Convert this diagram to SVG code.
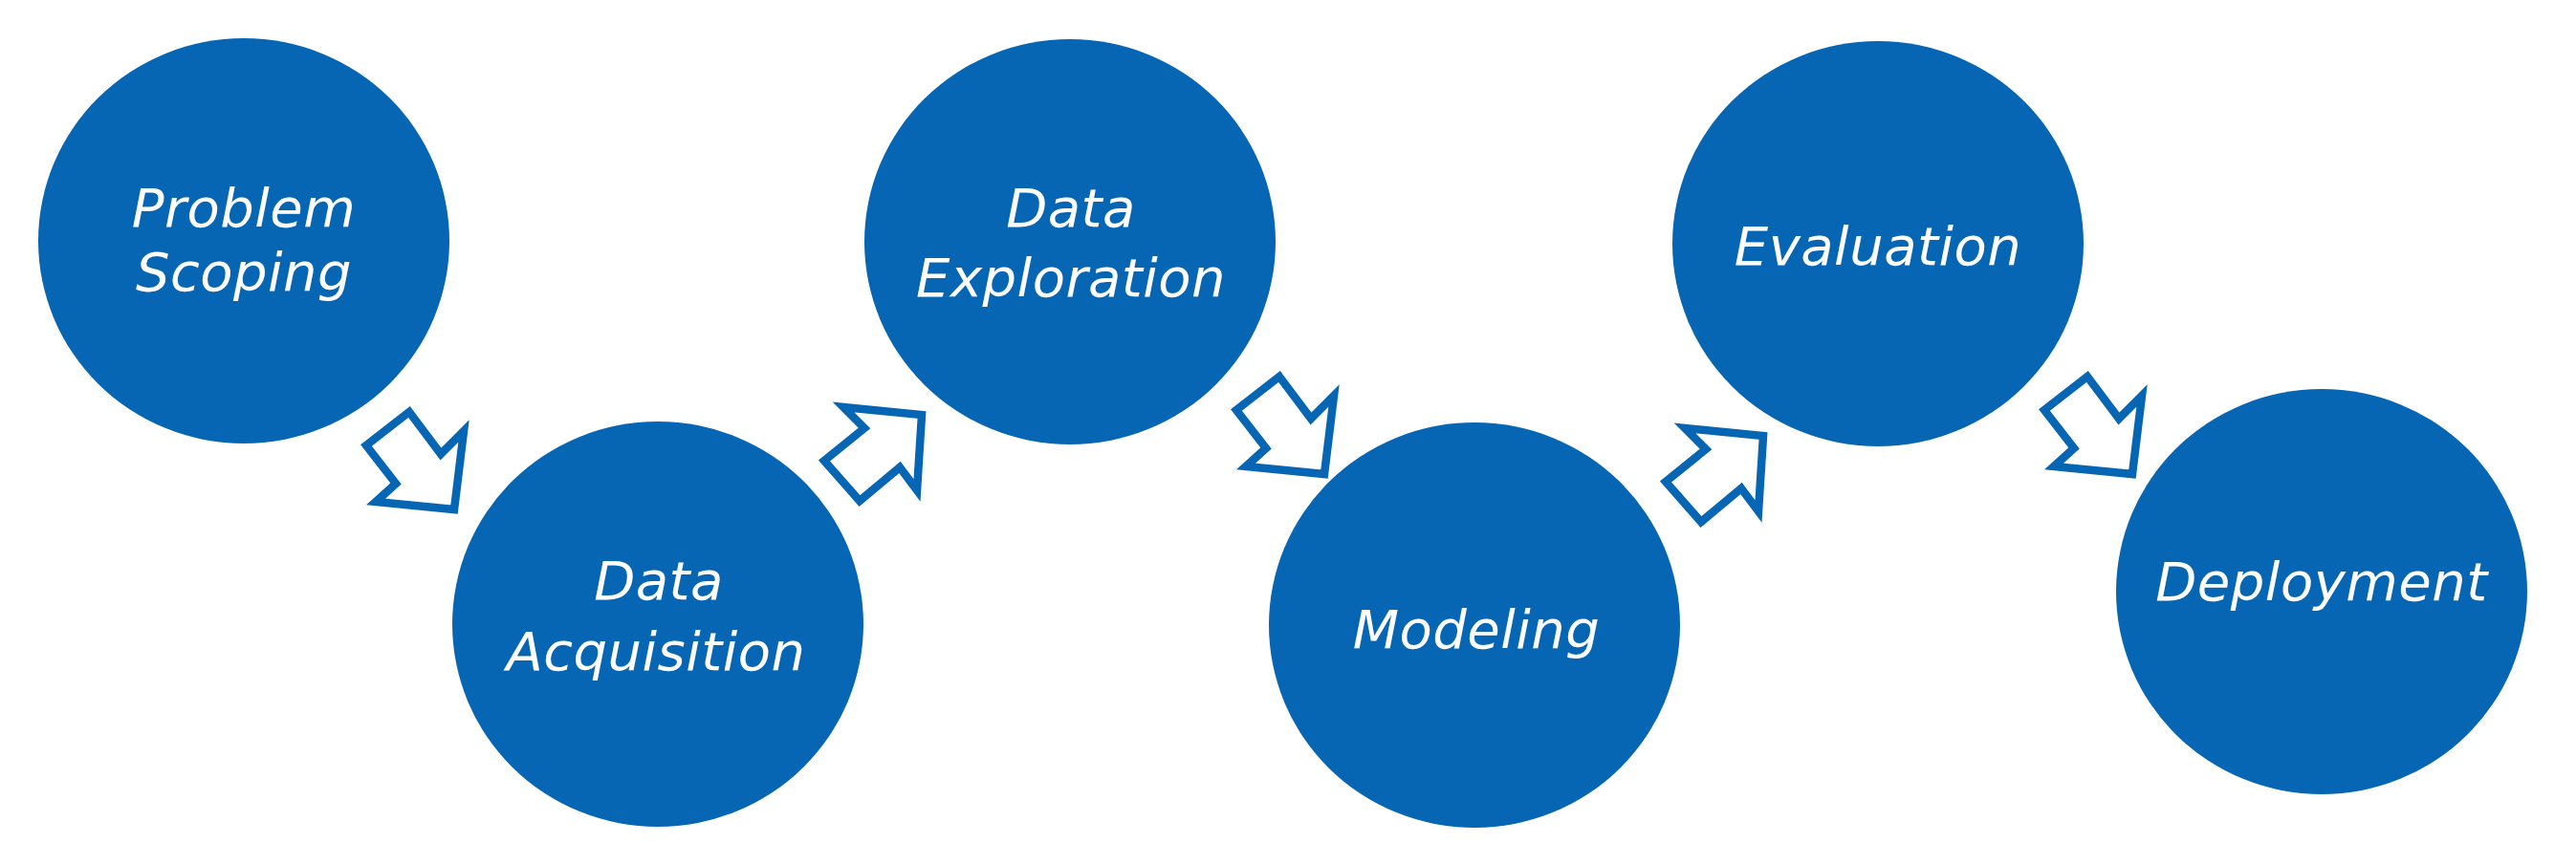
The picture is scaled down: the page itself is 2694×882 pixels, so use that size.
<svg xmlns="http://www.w3.org/2000/svg" width="2694" height="882" viewBox="0 0 2694 882">
<style>
.c{fill:#0666b3}
.t{fill:#ffffff;font-family:"DejaVu Sans","Open Sans",sans-serif;font-style:italic;font-size:56px;letter-spacing:0.5px;text-anchor:middle}
.a{fill:#ffffff;stroke:#0666b3;stroke-width:8.5;stroke-linejoin:miter}
</style>
<defs>
<polygon id="adown" points="428,431 461,475 485,451 475,533 393,525 414,506 383,466"/>
<polygon id="aup" points="882,426 964,434 959,513 941,489 899,524 862,482 904,448"/>
</defs>
<rect width="2694" height="882" fill="#ffffff"/>
<g id="connectors">
<use href="#adown" class="a"/>
<use href="#aup" class="a"/>
<use href="#adown" class="a" transform="translate(910,-37)"/>
<use href="#aup" class="a" transform="translate(880,22)"/>
<use href="#adown" class="a" transform="translate(1755,-37)"/>
</g>
<g id="problem-scoping">
<ellipse class="c" cx="255" cy="252" rx="215" ry="212"/>
<text class="t" x="255" y="237">Problem</text>
<text class="t" x="255" y="304">Scoping</text>
</g>
<g id="data-acquisition">
<ellipse class="c" cx="688" cy="653" rx="215" ry="212"/>
<text class="t" x="689" y="627">Data</text>
<text class="t" x="686" y="701">Acquisition</text>
</g>
<g id="data-exploration">
<ellipse class="c" cx="1119" cy="253" rx="215" ry="212"/>
<text class="t" x="1120" y="237">Data</text>
<text class="t" x="1120" y="310">Exploration</text>
</g>
<g id="modeling">
<ellipse class="c" cx="1542" cy="654" rx="215" ry="212"/>
<text class="t" x="1544" y="678">Modeling</text>
</g>
<g id="evaluation">
<ellipse class="c" cx="1964" cy="255" rx="215" ry="212"/>
<text class="t" x="1964" y="277">Evaluation</text>
</g>
<g id="deployment">
<ellipse class="c" cx="2428" cy="619" rx="215" ry="212"/>
<text class="t" x="2428" y="628">Deployment</text>
</g>
</svg>
